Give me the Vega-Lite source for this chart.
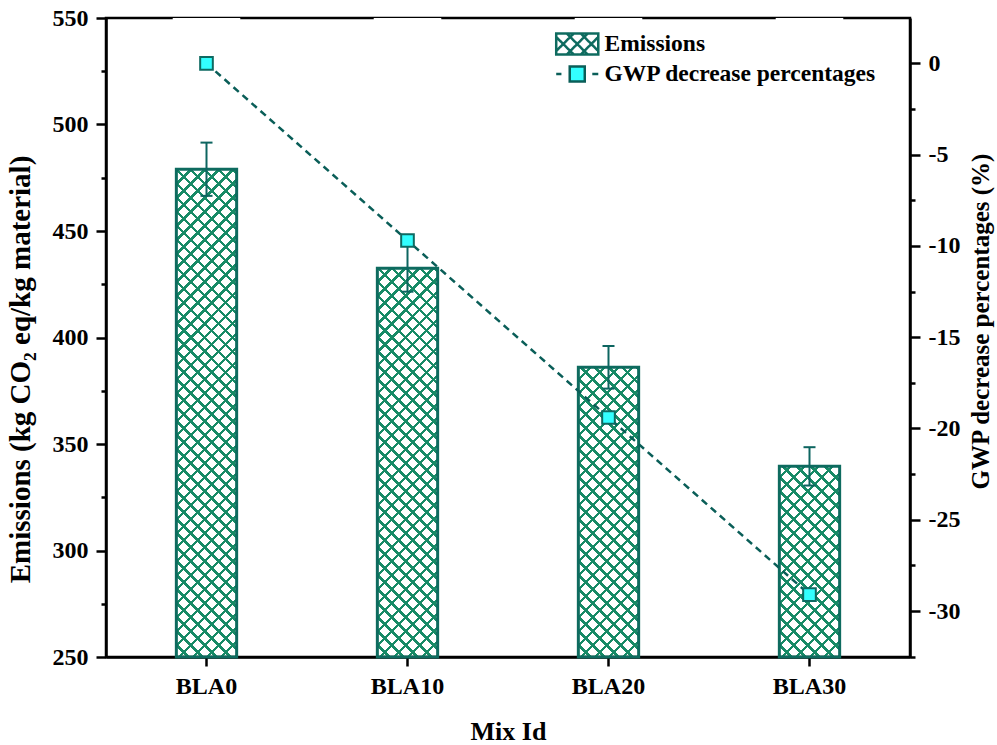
{
"$schema": "https://vega.github.io/schema/vega-lite/v6.json",
"width": 804, "height": 639,
"autosize": "none",
"padding": {"left": 106, "top": 18, "right": 87, "bottom": 88},
"background": "white",
"config": {
  "view": {"stroke": "black", "strokeWidth": 2.5},
  "axis": {"domainColor": "black", "domainWidth": 2.5, "tickColor": "black", "tickWidth": 2.5, "labelFont": "Liberation Serif", "labelFontWeight": "bold", "labelFontSize": 24, "labelColor": "black", "titleFont": "Liberation Serif", "titleFontWeight": "bold", "titleFontSize": 26, "titleColor": "black", "grid": false}
},
"data": {"values": [
  {"mix": "BLA0", "emissions": 479, "lo": 466.5, "hi": 491.5, "gwp": 0},
  {"mix": "BLA10", "emissions": 432.5, "lo": 421.5, "hi": 443.5, "gwp": -9.7},
  {"mix": "BLA20", "emissions": 386, "lo": 376, "hi": 396, "gwp": -19.4},
  {"mix": "BLA30", "emissions": 339.5, "lo": 330.5, "hi": 348.5, "gwp": -29.1}
]},
"encoding": {"x": {"field": "mix", "type": "nominal", "sort": null, "scale": {"paddingInner": 0.7, "paddingOuter": 0.35}, "axis": {"title": "Mix Id", "labelAngle": 0, "tickSize": 9, "labelPadding": 8, "titlePadding": 20}}},
"layer": [
 {"layer": [
  {"mark": {"type": "bar", "fill": {"gradient": "linear", "x1": 0, "y1": 1, "x2": 0.1024, "y2": -0.0847, "stops": [
{"offset":0,"color":"transparent"},{"offset":0.015,"color":"transparent"},{"offset":0.015,"color":"#178a66"},{"offset":0.02,"color":"#178a66"},
{"offset":0.02,"color":"transparent"},{"offset":0.035,"color":"transparent"},{"offset":0.035,"color":"#178a66"},{"offset":0.04,"color":"#178a66"},
{"offset":0.04,"color":"transparent"},{"offset":0.055,"color":"transparent"},{"offset":0.055,"color":"#178a66"},{"offset":0.06,"color":"#178a66"},
{"offset":0.06,"color":"transparent"},{"offset":0.075,"color":"transparent"},{"offset":0.075,"color":"#178a66"},{"offset":0.08,"color":"#178a66"},
{"offset":0.08,"color":"transparent"},{"offset":0.095,"color":"transparent"},{"offset":0.095,"color":"#178a66"},{"offset":0.1,"color":"#178a66"},
{"offset":0.1,"color":"transparent"},{"offset":0.115,"color":"transparent"},{"offset":0.115,"color":"#178a66"},{"offset":0.12,"color":"#178a66"},
{"offset":0.12,"color":"transparent"},{"offset":0.135,"color":"transparent"},{"offset":0.135,"color":"#178a66"},{"offset":0.14,"color":"#178a66"},
{"offset":0.14,"color":"transparent"},{"offset":0.155,"color":"transparent"},{"offset":0.155,"color":"#178a66"},{"offset":0.16,"color":"#178a66"},
{"offset":0.16,"color":"transparent"},{"offset":0.175,"color":"transparent"},{"offset":0.175,"color":"#178a66"},{"offset":0.18,"color":"#178a66"},
{"offset":0.18,"color":"transparent"},{"offset":0.195,"color":"transparent"},{"offset":0.195,"color":"#178a66"},{"offset":0.2,"color":"#178a66"},
{"offset":0.2,"color":"transparent"},{"offset":0.215,"color":"transparent"},{"offset":0.215,"color":"#178a66"},{"offset":0.22,"color":"#178a66"},
{"offset":0.22,"color":"transparent"},{"offset":0.235,"color":"transparent"},{"offset":0.235,"color":"#178a66"},{"offset":0.24,"color":"#178a66"},
{"offset":0.24,"color":"transparent"},{"offset":0.255,"color":"transparent"},{"offset":0.255,"color":"#178a66"},{"offset":0.26,"color":"#178a66"},
{"offset":0.26,"color":"transparent"},{"offset":0.275,"color":"transparent"},{"offset":0.275,"color":"#178a66"},{"offset":0.28,"color":"#178a66"},
{"offset":0.28,"color":"transparent"},{"offset":0.295,"color":"transparent"},{"offset":0.295,"color":"#178a66"},{"offset":0.3,"color":"#178a66"},
{"offset":0.3,"color":"transparent"},{"offset":0.315,"color":"transparent"},{"offset":0.315,"color":"#178a66"},{"offset":0.32,"color":"#178a66"},
{"offset":0.32,"color":"transparent"},{"offset":0.335,"color":"transparent"},{"offset":0.335,"color":"#178a66"},{"offset":0.34,"color":"#178a66"},
{"offset":0.34,"color":"transparent"},{"offset":0.355,"color":"transparent"},{"offset":0.355,"color":"#178a66"},{"offset":0.36,"color":"#178a66"},
{"offset":0.36,"color":"transparent"},{"offset":0.375,"color":"transparent"},{"offset":0.375,"color":"#178a66"},{"offset":0.38,"color":"#178a66"},
{"offset":0.38,"color":"transparent"},{"offset":0.395,"color":"transparent"},{"offset":0.395,"color":"#178a66"},{"offset":0.4,"color":"#178a66"},
{"offset":0.4,"color":"transparent"},{"offset":0.415,"color":"transparent"},{"offset":0.415,"color":"#178a66"},{"offset":0.42,"color":"#178a66"},
{"offset":0.42,"color":"transparent"},{"offset":0.435,"color":"transparent"},{"offset":0.435,"color":"#178a66"},{"offset":0.44,"color":"#178a66"},
{"offset":0.44,"color":"transparent"},{"offset":0.455,"color":"transparent"},{"offset":0.455,"color":"#178a66"},{"offset":0.46,"color":"#178a66"},
{"offset":0.46,"color":"transparent"},{"offset":0.475,"color":"transparent"},{"offset":0.475,"color":"#178a66"},{"offset":0.48,"color":"#178a66"},
{"offset":0.48,"color":"transparent"},{"offset":0.495,"color":"transparent"},{"offset":0.495,"color":"#178a66"},{"offset":0.5,"color":"#178a66"},
{"offset":0.5,"color":"transparent"},{"offset":0.515,"color":"transparent"},{"offset":0.515,"color":"#178a66"},{"offset":0.52,"color":"#178a66"},
{"offset":0.52,"color":"transparent"},{"offset":0.535,"color":"transparent"},{"offset":0.535,"color":"#178a66"},{"offset":0.54,"color":"#178a66"},
{"offset":0.54,"color":"transparent"},{"offset":0.555,"color":"transparent"},{"offset":0.555,"color":"#178a66"},{"offset":0.56,"color":"#178a66"},
{"offset":0.56,"color":"transparent"},{"offset":0.575,"color":"transparent"},{"offset":0.575,"color":"#178a66"},{"offset":0.58,"color":"#178a66"},
{"offset":0.58,"color":"transparent"},{"offset":0.595,"color":"transparent"},{"offset":0.595,"color":"#178a66"},{"offset":0.6,"color":"#178a66"},
{"offset":0.6,"color":"transparent"},{"offset":0.615,"color":"transparent"},{"offset":0.615,"color":"#178a66"},{"offset":0.62,"color":"#178a66"},
{"offset":0.62,"color":"transparent"},{"offset":0.635,"color":"transparent"},{"offset":0.635,"color":"#178a66"},{"offset":0.64,"color":"#178a66"},
{"offset":0.64,"color":"transparent"},{"offset":0.655,"color":"transparent"},{"offset":0.655,"color":"#178a66"},{"offset":0.66,"color":"#178a66"},
{"offset":0.66,"color":"transparent"},{"offset":0.675,"color":"transparent"},{"offset":0.675,"color":"#178a66"},{"offset":0.68,"color":"#178a66"},
{"offset":0.68,"color":"transparent"},{"offset":0.695,"color":"transparent"},{"offset":0.695,"color":"#178a66"},{"offset":0.7,"color":"#178a66"},
{"offset":0.7,"color":"transparent"},{"offset":0.715,"color":"transparent"},{"offset":0.715,"color":"#178a66"},{"offset":0.72,"color":"#178a66"},
{"offset":0.72,"color":"transparent"},{"offset":0.735,"color":"transparent"},{"offset":0.735,"color":"#178a66"},{"offset":0.74,"color":"#178a66"},
{"offset":0.74,"color":"transparent"},{"offset":0.755,"color":"transparent"},{"offset":0.755,"color":"#178a66"},{"offset":0.76,"color":"#178a66"},
{"offset":0.76,"color":"transparent"},{"offset":0.775,"color":"transparent"},{"offset":0.775,"color":"#178a66"},{"offset":0.78,"color":"#178a66"},
{"offset":0.78,"color":"transparent"},{"offset":0.795,"color":"transparent"},{"offset":0.795,"color":"#178a66"},{"offset":0.8,"color":"#178a66"},
{"offset":0.8,"color":"transparent"},{"offset":0.815,"color":"transparent"},{"offset":0.815,"color":"#178a66"},{"offset":0.82,"color":"#178a66"},
{"offset":0.82,"color":"transparent"},{"offset":0.835,"color":"transparent"},{"offset":0.835,"color":"#178a66"},{"offset":0.84,"color":"#178a66"},
{"offset":0.84,"color":"transparent"},{"offset":0.855,"color":"transparent"},{"offset":0.855,"color":"#178a66"},{"offset":0.86,"color":"#178a66"},
{"offset":0.86,"color":"transparent"},{"offset":0.875,"color":"transparent"},{"offset":0.875,"color":"#178a66"},{"offset":0.88,"color":"#178a66"},
{"offset":0.88,"color":"transparent"},{"offset":0.895,"color":"transparent"},{"offset":0.895,"color":"#178a66"},{"offset":0.9,"color":"#178a66"},
{"offset":0.9,"color":"transparent"},{"offset":0.915,"color":"transparent"},{"offset":0.915,"color":"#178a66"},{"offset":0.92,"color":"#178a66"},
{"offset":0.92,"color":"transparent"},{"offset":0.935,"color":"transparent"},{"offset":0.935,"color":"#178a66"},{"offset":0.94,"color":"#178a66"},
{"offset":0.94,"color":"transparent"},{"offset":0.955,"color":"transparent"},{"offset":0.955,"color":"#178a66"},{"offset":0.96,"color":"#178a66"},
{"offset":0.96,"color":"transparent"},{"offset":0.975,"color":"transparent"},{"offset":0.975,"color":"#178a66"},{"offset":0.98,"color":"#178a66"},
{"offset":0.98,"color":"transparent"},{"offset":0.995,"color":"transparent"},{"offset":0.995,"color":"#178a66"},{"offset":1,"color":"#178a66"}
  ]}},
   "encoding": {"y": {"datum": 550, "type": "quantitative", "scale": {"domain": [250, 550], "nice": false, "zero": false}, "title": "Emissions (kg CO₂ eq/kg material)"}, "y2": {"datum": 250}}},
  {"mark": {"type": "bar", "fill": {"gradient": "linear", "x1": 0, "y1": 0, "x2": 0.1024, "y2": 1.0847, "stops": [
{"offset":0,"color":"transparent"},{"offset":0.015,"color":"transparent"},{"offset":0.015,"color":"#178a66"},{"offset":0.02,"color":"#178a66"},
{"offset":0.02,"color":"transparent"},{"offset":0.035,"color":"transparent"},{"offset":0.035,"color":"#178a66"},{"offset":0.04,"color":"#178a66"},
{"offset":0.04,"color":"transparent"},{"offset":0.055,"color":"transparent"},{"offset":0.055,"color":"#178a66"},{"offset":0.06,"color":"#178a66"},
{"offset":0.06,"color":"transparent"},{"offset":0.075,"color":"transparent"},{"offset":0.075,"color":"#178a66"},{"offset":0.08,"color":"#178a66"},
{"offset":0.08,"color":"transparent"},{"offset":0.095,"color":"transparent"},{"offset":0.095,"color":"#178a66"},{"offset":0.1,"color":"#178a66"},
{"offset":0.1,"color":"transparent"},{"offset":0.115,"color":"transparent"},{"offset":0.115,"color":"#178a66"},{"offset":0.12,"color":"#178a66"},
{"offset":0.12,"color":"transparent"},{"offset":0.135,"color":"transparent"},{"offset":0.135,"color":"#178a66"},{"offset":0.14,"color":"#178a66"},
{"offset":0.14,"color":"transparent"},{"offset":0.155,"color":"transparent"},{"offset":0.155,"color":"#178a66"},{"offset":0.16,"color":"#178a66"},
{"offset":0.16,"color":"transparent"},{"offset":0.175,"color":"transparent"},{"offset":0.175,"color":"#178a66"},{"offset":0.18,"color":"#178a66"},
{"offset":0.18,"color":"transparent"},{"offset":0.195,"color":"transparent"},{"offset":0.195,"color":"#178a66"},{"offset":0.2,"color":"#178a66"},
{"offset":0.2,"color":"transparent"},{"offset":0.215,"color":"transparent"},{"offset":0.215,"color":"#178a66"},{"offset":0.22,"color":"#178a66"},
{"offset":0.22,"color":"transparent"},{"offset":0.235,"color":"transparent"},{"offset":0.235,"color":"#178a66"},{"offset":0.24,"color":"#178a66"},
{"offset":0.24,"color":"transparent"},{"offset":0.255,"color":"transparent"},{"offset":0.255,"color":"#178a66"},{"offset":0.26,"color":"#178a66"},
{"offset":0.26,"color":"transparent"},{"offset":0.275,"color":"transparent"},{"offset":0.275,"color":"#178a66"},{"offset":0.28,"color":"#178a66"},
{"offset":0.28,"color":"transparent"},{"offset":0.295,"color":"transparent"},{"offset":0.295,"color":"#178a66"},{"offset":0.3,"color":"#178a66"},
{"offset":0.3,"color":"transparent"},{"offset":0.315,"color":"transparent"},{"offset":0.315,"color":"#178a66"},{"offset":0.32,"color":"#178a66"},
{"offset":0.32,"color":"transparent"},{"offset":0.335,"color":"transparent"},{"offset":0.335,"color":"#178a66"},{"offset":0.34,"color":"#178a66"},
{"offset":0.34,"color":"transparent"},{"offset":0.355,"color":"transparent"},{"offset":0.355,"color":"#178a66"},{"offset":0.36,"color":"#178a66"},
{"offset":0.36,"color":"transparent"},{"offset":0.375,"color":"transparent"},{"offset":0.375,"color":"#178a66"},{"offset":0.38,"color":"#178a66"},
{"offset":0.38,"color":"transparent"},{"offset":0.395,"color":"transparent"},{"offset":0.395,"color":"#178a66"},{"offset":0.4,"color":"#178a66"},
{"offset":0.4,"color":"transparent"},{"offset":0.415,"color":"transparent"},{"offset":0.415,"color":"#178a66"},{"offset":0.42,"color":"#178a66"},
{"offset":0.42,"color":"transparent"},{"offset":0.435,"color":"transparent"},{"offset":0.435,"color":"#178a66"},{"offset":0.44,"color":"#178a66"},
{"offset":0.44,"color":"transparent"},{"offset":0.455,"color":"transparent"},{"offset":0.455,"color":"#178a66"},{"offset":0.46,"color":"#178a66"},
{"offset":0.46,"color":"transparent"},{"offset":0.475,"color":"transparent"},{"offset":0.475,"color":"#178a66"},{"offset":0.48,"color":"#178a66"},
{"offset":0.48,"color":"transparent"},{"offset":0.495,"color":"transparent"},{"offset":0.495,"color":"#178a66"},{"offset":0.5,"color":"#178a66"},
{"offset":0.5,"color":"transparent"},{"offset":0.515,"color":"transparent"},{"offset":0.515,"color":"#178a66"},{"offset":0.52,"color":"#178a66"},
{"offset":0.52,"color":"transparent"},{"offset":0.535,"color":"transparent"},{"offset":0.535,"color":"#178a66"},{"offset":0.54,"color":"#178a66"},
{"offset":0.54,"color":"transparent"},{"offset":0.555,"color":"transparent"},{"offset":0.555,"color":"#178a66"},{"offset":0.56,"color":"#178a66"},
{"offset":0.56,"color":"transparent"},{"offset":0.575,"color":"transparent"},{"offset":0.575,"color":"#178a66"},{"offset":0.58,"color":"#178a66"},
{"offset":0.58,"color":"transparent"},{"offset":0.595,"color":"transparent"},{"offset":0.595,"color":"#178a66"},{"offset":0.6,"color":"#178a66"},
{"offset":0.6,"color":"transparent"},{"offset":0.615,"color":"transparent"},{"offset":0.615,"color":"#178a66"},{"offset":0.62,"color":"#178a66"},
{"offset":0.62,"color":"transparent"},{"offset":0.635,"color":"transparent"},{"offset":0.635,"color":"#178a66"},{"offset":0.64,"color":"#178a66"},
{"offset":0.64,"color":"transparent"},{"offset":0.655,"color":"transparent"},{"offset":0.655,"color":"#178a66"},{"offset":0.66,"color":"#178a66"},
{"offset":0.66,"color":"transparent"},{"offset":0.675,"color":"transparent"},{"offset":0.675,"color":"#178a66"},{"offset":0.68,"color":"#178a66"},
{"offset":0.68,"color":"transparent"},{"offset":0.695,"color":"transparent"},{"offset":0.695,"color":"#178a66"},{"offset":0.7,"color":"#178a66"},
{"offset":0.7,"color":"transparent"},{"offset":0.715,"color":"transparent"},{"offset":0.715,"color":"#178a66"},{"offset":0.72,"color":"#178a66"},
{"offset":0.72,"color":"transparent"},{"offset":0.735,"color":"transparent"},{"offset":0.735,"color":"#178a66"},{"offset":0.74,"color":"#178a66"},
{"offset":0.74,"color":"transparent"},{"offset":0.755,"color":"transparent"},{"offset":0.755,"color":"#178a66"},{"offset":0.76,"color":"#178a66"},
{"offset":0.76,"color":"transparent"},{"offset":0.775,"color":"transparent"},{"offset":0.775,"color":"#178a66"},{"offset":0.78,"color":"#178a66"},
{"offset":0.78,"color":"transparent"},{"offset":0.795,"color":"transparent"},{"offset":0.795,"color":"#178a66"},{"offset":0.8,"color":"#178a66"},
{"offset":0.8,"color":"transparent"},{"offset":0.815,"color":"transparent"},{"offset":0.815,"color":"#178a66"},{"offset":0.82,"color":"#178a66"},
{"offset":0.82,"color":"transparent"},{"offset":0.835,"color":"transparent"},{"offset":0.835,"color":"#178a66"},{"offset":0.84,"color":"#178a66"},
{"offset":0.84,"color":"transparent"},{"offset":0.855,"color":"transparent"},{"offset":0.855,"color":"#178a66"},{"offset":0.86,"color":"#178a66"},
{"offset":0.86,"color":"transparent"},{"offset":0.875,"color":"transparent"},{"offset":0.875,"color":"#178a66"},{"offset":0.88,"color":"#178a66"},
{"offset":0.88,"color":"transparent"},{"offset":0.895,"color":"transparent"},{"offset":0.895,"color":"#178a66"},{"offset":0.9,"color":"#178a66"},
{"offset":0.9,"color":"transparent"},{"offset":0.915,"color":"transparent"},{"offset":0.915,"color":"#178a66"},{"offset":0.92,"color":"#178a66"},
{"offset":0.92,"color":"transparent"},{"offset":0.935,"color":"transparent"},{"offset":0.935,"color":"#178a66"},{"offset":0.94,"color":"#178a66"},
{"offset":0.94,"color":"transparent"},{"offset":0.955,"color":"transparent"},{"offset":0.955,"color":"#178a66"},{"offset":0.96,"color":"#178a66"},
{"offset":0.96,"color":"transparent"},{"offset":0.975,"color":"transparent"},{"offset":0.975,"color":"#178a66"},{"offset":0.98,"color":"#178a66"},
{"offset":0.98,"color":"transparent"},{"offset":0.995,"color":"transparent"},{"offset":0.995,"color":"#178a66"},{"offset":1,"color":"#178a66"}
  ]}},
   "encoding": {"y": {"datum": 550, "type": "quantitative", "scale": {"domain": [250, 550], "nice": false, "zero": false}, "title": "Emissions (kg CO₂ eq/kg material)"}, "y2": {"datum": 250}}},
  {"mark": {"type": "bar", "fill": "white", "width": {"band": 1.12}},
   "encoding": {"y": {"field": "emissions", "type": "quantitative", "scale": {"domain": [250, 550], "nice": false, "zero": false}, "title": "Emissions (kg CO₂ eq/kg material)"}, "y2": {"datum": 550}}},
  {"mark": {"type": "bar", "fill": "transparent", "strokeWidth": 3},
   "encoding": {
     "y": {"field": "emissions", "type": "quantitative", "scale": {"domain": [250, 550], "nice": false, "zero": false}, "title": "Emissions (kg CO₂ eq/kg material)",
       "axis": {"values": [250,275,300,325,350,375,400,425,450,475,500,525,550], "labelExpr": "datum.value % 50 === 0 ? '' + datum.value : ''", "tickSize": {"condition": {"test": "datum.value % 50 === 0", "value": 10}, "value": 5}, "labelPadding": 8, "labelOverlap": false, "labelFlush": false, "titlePadding": 17, "titleFontSize": 29, "titleY": 351}},
     "y2": {"datum": 250},
     "stroke": {"datum": "Emissions", "type": "nominal", "scale": {"domain": ["Emissions", "GWP decrease percentages"], "range": ["#0e6b5f", "#0a5e58"]},
       "legend": {"orient": "none", "legendX": 457.25, "legendY": 12, "title": null, "padding": 0, "symbolSize": 650, "labelOffset": 13.25, "labelFont": "Liberation Serif", "labelFontWeight": "bold", "labelFontSize": 23.5, "labelColor": "black", "labelLimit": 500, "rowPadding": 0, "symbolStrokeWidth": 2.5,
         "encoding": {"symbols": {
           "shape": {"condition": {"test": "datum.value === 'Emissions'", "value": "M-1.65,-0.824H1.65V0.824H-1.65ZM-1.65,-0.549L-0.275,0.824M-0.824,-0.824L0.824,0.824M0.275,-0.824L1.65,0.549M-1.65,0.549L-0.275,-0.824M-0.824,0.824L0.824,-0.824M0.275,0.824L1.65,-0.549"}, "value": "M-1.65,0H-1.24M1.18,0H1.65M-0.59,-0.59H0.59V0.59H-0.59Z"},
           "fill": {"condition": {"test": "datum.value === 'Emissions'", "value": "#ffffff"}, "value": "#33ffff"},
           "stroke": {"condition": {"test": "datum.value === 'Emissions'", "value": "#12785f"}, "value": "#0e6a62"},
           "strokeWidth": {"value": 2.5},
           "strokeDash": {"value": [1, 0]},
           "opacity": {"value": 1},
           "fillOpacity": {"value": 1},
           "strokeOpacity": {"value": 1}
         }}}}
   }},
  {"mark": {"type": "rule", "color": "#0d6560", "strokeWidth": 2},
   "encoding": {"y": {"field": "lo", "type": "quantitative", "scale": {"domain": [250, 550], "nice": false, "zero": false}, "title": "Emissions (kg CO₂ eq/kg material)"}, "y2": {"field": "hi"}}},
  {"mark": {"type": "tick", "color": "#0d6560", "thickness": 2, "size": 12, "opacity": 1},
   "encoding": {"y": {"field": "lo", "type": "quantitative", "scale": {"domain": [250, 550], "nice": false, "zero": false}, "title": "Emissions (kg CO₂ eq/kg material)"}}},
  {"mark": {"type": "tick", "color": "#0d6560", "thickness": 2, "size": 12, "opacity": 1},
   "encoding": {"y": {"field": "hi", "type": "quantitative", "scale": {"domain": [250, 550], "nice": false, "zero": false}, "title": "Emissions (kg CO₂ eq/kg material)"}}}
 ]},
 {"layer": [
  {"mark": {"type": "line", "strokeDash": [7, 5], "strokeWidth": 2.5},
   "encoding": {
     "y": {"field": "gwp", "type": "quantitative", "scale": {"domain": [-32.52, 2.49], "nice": false, "zero": false}, "title": "GWP decrease percentages (%)",
       "axis": {"orient": "right", "titleAngle": -90, "titleBaseline": "top", "titleY": 303, "values": [2.5,0,-2.5,-5,-7.5,-10,-12.5,-15,-17.5,-20,-22.5,-25,-27.5,-30,-32.5], "labelExpr": "datum.value % 5 === 0 ? '' + datum.value : ''", "tickSize": {"condition": {"test": "datum.value % 5 === 0", "value": 10}, "value": 5}, "labelPadding": 8, "labelOverlap": false, "labelFlush": false, "titlePadding": 9, "titleFontSize": 25}},
     "stroke": {"datum": "GWP decrease percentages", "type": "nominal"}
   }},
  {"mark": {"type": "square", "size": 160, "fill": "#33ffff", "stroke": "#0e6a62", "strokeWidth": 2, "opacity": 1, "filled": true},
   "encoding": {"y": {"field": "gwp", "type": "quantitative", "scale": {"domain": [-32.52, 2.49], "nice": false, "zero": false}, "title": "GWP decrease percentages (%)"}}}
 ]}
],
"resolve": {"scale": {"y": "independent"}}
}
